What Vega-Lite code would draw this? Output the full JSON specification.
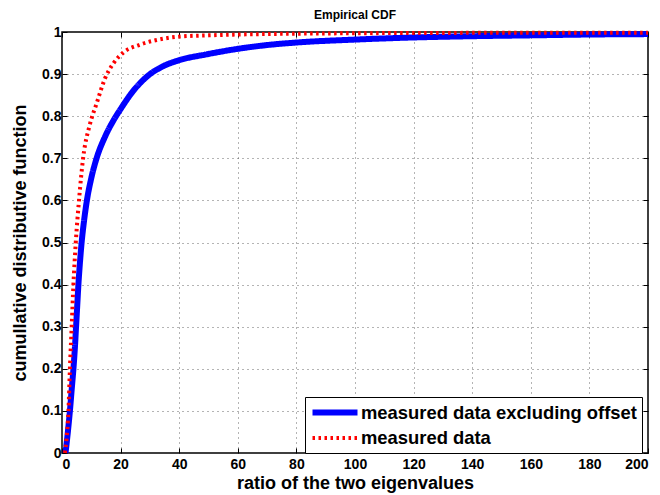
{
  "$schema": "https://vega.github.io/schema/vega-lite/v6.json",
  "width": 586,
  "height": 421,
  "autosize": "none",
  "padding": {"left": 62, "top": 32, "right": 12, "bottom": 42},
  "background": "white",
  "title": {"text": "Empirical CDF", "font": "Liberation Sans", "fontSize": 12, "fontWeight": "bold", "color": "black", "offset": 0},
  "config": {
    "view": {"stroke": "black", "strokeWidth": 1.5},
    "axis": {"labelFont": "Liberation Sans", "labelFontWeight": "bold", "labelFontSize": 14, "labelColor": "black", "titleFont": "Liberation Sans", "titleFontWeight": "bold", "titleFontSize": 18, "titleColor": "black", "domain": false, "tickColor": "black", "tickSize": -5, "gridColor": "#444", "gridDash": [1, 4], "gridWidth": 1, "gridOpacity": 0.8}
  },
  "data": {"values": [
    {"series": "measured data excluding offset", "x": 1.2, "y": 0},
    {"series": "measured data excluding offset", "x": 2, "y": 0.05},
    {"series": "measured data excluding offset", "x": 2.7, "y": 0.1},
    {"series": "measured data excluding offset", "x": 3.3, "y": 0.15},
    {"series": "measured data excluding offset", "x": 3.9, "y": 0.2},
    {"series": "measured data excluding offset", "x": 4.4, "y": 0.25},
    {"series": "measured data excluding offset", "x": 4.8, "y": 0.3},
    {"series": "measured data excluding offset", "x": 5.2, "y": 0.35},
    {"series": "measured data excluding offset", "x": 5.6, "y": 0.4},
    {"series": "measured data excluding offset", "x": 6.1, "y": 0.45},
    {"series": "measured data excluding offset", "x": 6.7, "y": 0.5},
    {"series": "measured data excluding offset", "x": 7.5, "y": 0.55},
    {"series": "measured data excluding offset", "x": 8.5, "y": 0.6},
    {"series": "measured data excluding offset", "x": 9.9, "y": 0.65},
    {"series": "measured data excluding offset", "x": 11.8, "y": 0.7},
    {"series": "measured data excluding offset", "x": 14.6, "y": 0.75},
    {"series": "measured data excluding offset", "x": 18, "y": 0.795},
    {"series": "measured data excluding offset", "x": 20, "y": 0.817},
    {"series": "measured data excluding offset", "x": 24.3, "y": 0.86},
    {"series": "measured data excluding offset", "x": 29.5, "y": 0.897},
    {"series": "measured data excluding offset", "x": 34.6, "y": 0.919},
    {"series": "measured data excluding offset", "x": 40, "y": 0.933},
    {"series": "measured data excluding offset", "x": 49.4, "y": 0.947},
    {"series": "measured data excluding offset", "x": 60, "y": 0.96},
    {"series": "measured data excluding offset", "x": 70, "y": 0.969},
    {"series": "measured data excluding offset", "x": 80, "y": 0.975},
    {"series": "measured data excluding offset", "x": 100, "y": 0.982},
    {"series": "measured data excluding offset", "x": 120, "y": 0.987},
    {"series": "measured data excluding offset", "x": 140, "y": 0.99},
    {"series": "measured data excluding offset", "x": 160, "y": 0.992},
    {"series": "measured data excluding offset", "x": 180, "y": 0.994},
    {"series": "measured data excluding offset", "x": 200, "y": 0.995},
    {"series": "measured data", "x": 1, "y": 0},
    {"series": "measured data", "x": 1.5, "y": 0.03},
    {"series": "measured data", "x": 2.2, "y": 0.1},
    {"series": "measured data", "x": 2.7, "y": 0.2},
    {"series": "measured data", "x": 3.3, "y": 0.3},
    {"series": "measured data", "x": 3.9, "y": 0.4},
    {"series": "measured data", "x": 4.7, "y": 0.5},
    {"series": "measured data", "x": 5.8, "y": 0.6},
    {"series": "measured data", "x": 7.2, "y": 0.7},
    {"series": "measured data", "x": 9.5, "y": 0.78},
    {"series": "measured data", "x": 11.8, "y": 0.83},
    {"series": "measured data", "x": 14.7, "y": 0.89},
    {"series": "measured data", "x": 17.5, "y": 0.925},
    {"series": "measured data", "x": 20.9, "y": 0.951},
    {"series": "measured data", "x": 26.6, "y": 0.97},
    {"series": "measured data", "x": 32.3, "y": 0.981},
    {"series": "measured data", "x": 40, "y": 0.989},
    {"series": "measured data", "x": 50, "y": 0.992},
    {"series": "measured data", "x": 60, "y": 0.994},
    {"series": "measured data", "x": 80, "y": 0.996},
    {"series": "measured data", "x": 100, "y": 0.997},
    {"series": "measured data", "x": 150, "y": 0.998},
    {"series": "measured data", "x": 200, "y": 0.998}
  ]},
  "layer": [
    {
      "mark": {"type": "line", "interpolate": "monotone"},
      "encoding": {
        "x": {"field": "x", "type": "quantitative", "scale": {"domain": [0, 200], "nice": false}, "axis": {"values": [0, 20, 40, 60, 80, 100, 120, 140, 160, 180, 200], "title": "ratio of the two eigenvalues", "labelPadding": 9, "titlePadding": 3}},
        "y": {"field": "y", "type": "quantitative", "scale": {"domain": [0, 1], "nice": false}, "axis": {"values": [0, 0.1, 0.2, 0.3, 0.4, 0.5, 0.6, 0.7, 0.8, 0.9, 1], "format": "~g", "title": "cumullative distributive function", "labelPadding": 6, "titlePadding": 12}},
        "color": {"field": "series", "type": "nominal", "scale": {"domain": ["measured data excluding offset", "measured data"], "range": ["#0000ff", "#ff0000"]}, "legend": {"title": null, "orient": "none", "legendX": 243, "legendY": 365, "symbolType": "M-3,0H3", "symbolSize": 225, "labelFont": "Liberation Sans", "labelFontWeight": "bold", "labelFontSize": 18.4, "labelLimit": 400, "labelColor": "black", "strokeColor": "black", "fillColor": "white", "padding": 5, "rowPadding": 3.5, "labelOffset": 15.5, "symbolOffset": 14.5}},
        "strokeDash": {"field": "series", "type": "nominal", "scale": {"domain": ["measured data excluding offset", "measured data"], "range": [[1, 0], [2.5, 3.5]]}},
        "strokeWidth": {"field": "series", "type": "nominal", "scale": {"domain": ["measured data excluding offset", "measured data"], "range": [6, 4]}}
      }
    },
    {
      "mark": {"type": "line", "opacity": 0},
      "encoding": {
        "x": {"field": "x", "type": "quantitative", "scale": {"domain": [0, 200], "nice": false}, "axis": {"orient": "top", "values": [0, 20, 40, 60, 80, 100, 120, 140, 160, 180, 200], "labels": false, "grid": false, "title": null}},
        "y": {"field": "y", "type": "quantitative", "scale": {"domain": [0, 1], "nice": false}, "axis": {"orient": "right", "values": [0, 0.1, 0.2, 0.3, 0.4, 0.5, 0.6, 0.7, 0.8, 0.9, 1], "labels": false, "grid": false, "title": null}},
        "detail": {"field": "series"}
      }
    }
  ],
  "resolve": {"axis": {"x": "independent", "y": "independent"}}
}
